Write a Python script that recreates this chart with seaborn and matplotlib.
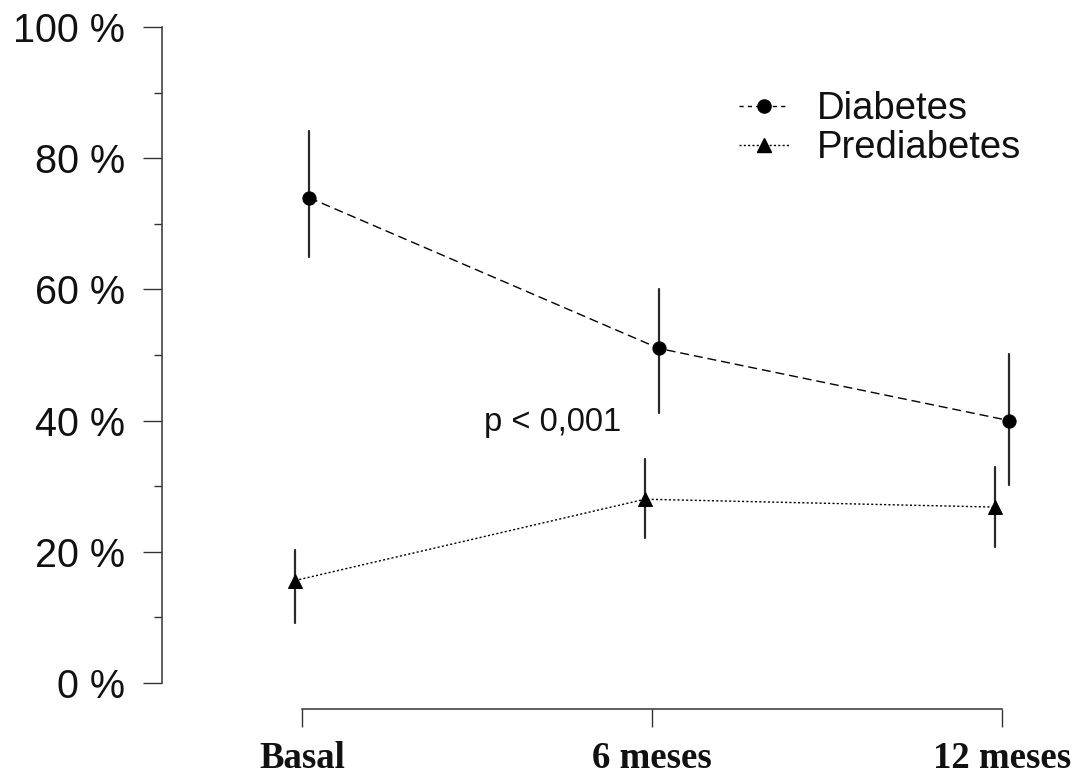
import numpy as np
import pandas as pd
import matplotlib
matplotlib.use("Agg")
import matplotlib.pyplot as plt
from matplotlib.lines import Line2D
from matplotlib.ticker import FixedLocator
import seaborn as sns

# ---- data ----
times = ["Basal", "6 meses", "12 meses"]
groups = ["Diabetes", "Prediabetes"]
diab_pct = [74.0, 51.0, 40.0]
diab_lo = [65.0, 41.1, 30.1]
diab_hi = [84.1, 60.1, 50.1]
pre_pct = [15.6, 28.0, 26.8]
pre_lo = [9.1, 22.1, 20.7]
pre_hi = [20.2, 34.1, 32.9]
y_ticks = [0, 20, 40, 60, 80, 100]
y_minor = [10, 30, 50, 70, 90]
y_ticklabels = ["0 %", "20 %", "40 %", "60 %", "80 %", "100 %"]
p_text = "p < 0,001"

rows = []
for g, est, lo, hi in [("Diabetes", diab_pct, diab_lo, diab_hi),
                       ("Prediabetes", pre_pct, pre_lo, pre_hi)]:
    for t, m, l, h in zip(times, est, lo, hi):
        for v in (l, m, h):
            rows.append({"Tiempo": t, "Grupo": g, "Valor": v})
df = pd.DataFrame(rows)

sns.set_theme(style="ticks")
plt.rcParams['font.family'] = ['Liberation Sans', 'DejaVu Sans']

fig = plt.figure(figsize=(10.8, 7.76), dpi=100)
ax = fig.add_axes([162 / 1080, 67 / 776, 910 / 1080, 708 / 776])

sns.pointplot(
    data=df, x="Tiempo", y="Valor", hue="Grupo",
    order=times, hue_order=["Prediabetes", "Diabetes"],
    estimator="median", errorbar=lambda v: (np.min(v), np.max(v)),
    dodge=0.04, markers=["^", "o"], linestyles=[":", "--"],
    palette={"Diabetes": "black", "Prediabetes": "black"},
    err_kws={"linewidth": 1.6, "color": "#2a2a2a"},
    linewidth=1.0, markersize=9, ax=ax, legend=False,
)

for ln in ax.lines:
    mk = ln.get_marker()
    if mk == "o":
        ln.set_dashes((6.5, 3.5))
        ln.set_markersize(9.5)
        ln.set_zorder(3)
    elif mk == "^":
        ln.set_dashes((1.5, 1.6))
        ln.set_markersize(10.5)
        ln.set_zorder(3)

ax.set_xlim(-0.4, 2.2)
ax.set_ylim(-4, 104)
ax.set_xlabel("")
ax.set_ylabel("")

for s in ["top", "right"]:
    ax.spines[s].set_visible(False)
ax.spines["left"].set_bounds(0, 100)
ax.spines["bottom"].set_bounds(0, 2)
for s in ["left", "bottom"]:
    ax.spines[s].set_color("#333333")
    ax.spines[s].set_linewidth(1.1)

ax.yaxis.set_major_locator(FixedLocator(y_ticks))
ax.yaxis.set_minor_locator(FixedLocator(y_minor))
ax.set_yticklabels(y_ticklabels)
ax.tick_params(axis="y", which="major", length=13.5, width=1.0, color="#333333",
               pad=13, labelsize=28.5, labelcolor="#111111")
ax.tick_params(axis="y", which="minor", length=6, width=1.0, color="#333333")
ax.tick_params(axis="x", which="major", length=13, width=1.0, color="#333333", pad=10)
for lab in ax.get_xticklabels():
    lab.set_fontfamily(["Liberation Serif", "DejaVu Serif"])
    lab.set_fontweight("bold")
    lab.set_fontsize(26.5)
    lab.set_color("#111111")

ax.text(0.717, 39.7, p_text, ha="center", va="center", fontsize=23.5, color="#111111")

handles = [
    Line2D([], [], color="black", linestyle="--", dashes=(3, 3), linewidth=1.0,
           marker="o", markersize=9.5),
    Line2D([], [], color="black", linestyle=":", dashes=(1.5, 1.6), linewidth=1.0,
           marker="^", markersize=10.5),
]
fig.legend(handles, groups, loc="upper left", bbox_to_anchor=(739 / 1080, 1 - 91 / 776),
           frameon=False, fontsize=27.5, handlelength=1.31, handletextpad=0.73,
           labelspacing=0.08, borderpad=0, borderaxespad=0, labelcolor="#111111")

fig.savefig("out.png", dpi=100)
